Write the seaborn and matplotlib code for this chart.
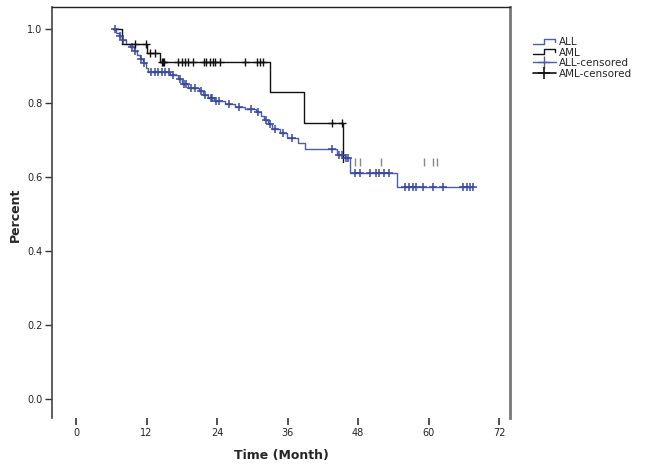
import numpy as np
import pandas as pd
import matplotlib
matplotlib.use("Agg")
import matplotlib.pyplot as plt
import seaborn as sns
from matplotlib.lines import Line2D
from matplotlib.legend_handler import HandlerBase

# ---------------- data ----------------
all_times = [6.3, 6.8, 7.3, 7.8, 8.5, 9.2, 9.9, 10.4, 10.9, 11.4, 11.9, 12.3, 16.0,
             17.4, 18.0, 19.1, 20.9, 21.6, 22.5, 23.5, 25.4, 27.1, 28.8, 30.6, 31.5,
             32.0, 32.7, 33.4, 34.7, 35.9, 37.8, 39.0, 44.4, 45.8, 46.6, 54.6, 67.6]
all_surv = [1.0, 0.989, 0.981, 0.970, 0.959, 0.951, 0.941, 0.930, 0.919, 0.908, 0.895,
            0.884, 0.876, 0.865, 0.851, 0.841, 0.832, 0.822, 0.814, 0.805, 0.797, 0.789,
            0.784, 0.776, 0.765, 0.754, 0.743, 0.730, 0.719, 0.705, 0.692, 0.676, 0.659,
            0.652, 0.611, 0.573, 0.573]
all_censored = [6.6, 7.5, 8.0, 9.5, 10.1, 11.0, 11.6, 12.8, 13.5, 14.0, 14.6, 15.2, 15.8,
                16.5, 17.7, 18.4, 18.8, 19.5, 20.2, 21.2, 22.0, 22.9, 23.1, 23.9, 24.3,
                26.0, 27.8, 29.7, 30.9, 32.3, 33.0, 33.9, 35.2, 36.7, 43.6, 44.8, 45.2,
                46.0, 46.3, 47.5, 48.3, 50.0, 51.0, 51.6, 52.5, 53.3, 56.0, 56.6, 57.3,
                57.9, 59.1, 60.8, 62.5, 65.9, 66.5, 67.1, 67.6]

aml_times = [6.3, 7.8, 12.1, 14.3, 33.0, 38.8, 45.4]
aml_surv = [1.0, 0.959, 0.935, 0.911, 0.830, 0.746, 0.641]
aml_censored = [10.0, 11.9, 12.6, 13.4, 14.6, 14.8, 15.0, 17.4, 18.0, 18.6, 19.1, 19.9,
                21.7, 22.2, 22.8, 23.4, 23.7, 24.5, 28.8, 30.8, 31.3, 31.9, 43.6, 45.3]
aml_censored_late = [47.5, 48.3, 51.9, 59.2, 60.8, 61.4]

x_ticks = [0, 12, 24, 36, 48, 60, 72]
y_ticks = [0.0, 0.2, 0.4, 0.6, 0.8, 1.0]
legend_labels = ["ALL", "AML", "ALL-censored", "AML-censored"]

BLUE = "#4a5cb5"
BLUE_DARK = "#3a4a9e"
BLACK = "#111111"


def level_at(times, surv, t):
    idx = np.searchsorted(np.asarray(times), t, side="right") - 1
    return np.asarray(surv)[np.clip(idx, 0, len(surv) - 1)]


curves = pd.concat([
    pd.DataFrame({"time": all_times, "surv": all_surv, "group": "ALL"}),
    pd.DataFrame({"time": aml_times, "surv": aml_surv, "group": "AML"}),
], ignore_index=True)

cens_all = pd.DataFrame({"time": all_censored,
                         "surv": level_at(all_times, all_surv, all_censored)})
cens_aml = pd.DataFrame({"time": aml_censored,
                         "surv": level_at(aml_times, aml_surv, aml_censored)})
cens_aml_late = pd.DataFrame({"time": aml_censored_late,
                              "surv": level_at(aml_times, aml_surv, aml_censored_late)})

# ---------------- figure ----------------
sns.set_theme(style="white")
plt.rcParams["font.family"] = ["DejaVu Sans"]

fig = plt.figure(figsize=(6.48, 4.66), dpi=100)
ax = fig.add_axes([52 / 648, 1 - 418 / 466, (510 - 52) / 648, (418 - 7) / 466])

sns.lineplot(data=curves, x="time", y="surv", hue="group",
             palette={"ALL": BLUE, "AML": BLACK}, drawstyle="steps-post",
             estimator=None, sort=False, linewidth=1.0, legend=False, ax=ax)

ax.plot(cens_all["time"], cens_all["surv"], linestyle="none", marker="+",
        markersize=6, markeredgewidth=1.1, color=BLUE_DARK, zorder=3)
ax.plot(cens_aml["time"], cens_aml["surv"], linestyle="none", marker="+",
        markersize=6, markeredgewidth=1.0, color=BLACK, zorder=4)
ax.plot(cens_aml_late["time"], cens_aml_late["surv"], linestyle="none", marker="|",
        markersize=6, markeredgewidth=1.0, color="#888888", zorder=4)

ax.set_xlim(-4.09, 73.87)
ax.set_ylim(-0.051, 1.059)
ax.set_xticks(x_ticks)
ax.set_xticklabels([str(v) for v in x_ticks])
ax.set_yticks(y_ticks)
ax.set_yticklabels([f"{v:.1f}" for v in y_ticks])

ax.spines["bottom"].set_visible(False)
ax.spines["top"].set_color("#222222")
ax.spines["top"].set_linewidth(1.0)
ax.spines["left"].set_color("#444444")
ax.spines["left"].set_linewidth(1.2)
ax.spines["right"].set_color("#777777")
ax.spines["right"].set_linewidth(2.0)

ax.tick_params(axis="x", direction="out", length=5, width=1.2, color="#333333",
               bottom=True, pad=2, labelsize=7, labelcolor="#222222")
ax.tick_params(axis="y", direction="out", length=5, width=1.0, color="#333333",
               left=True, pad=2, labelsize=7, labelcolor="#222222")

ax.set_xlabel("Time (Month)", fontsize=9, fontweight="bold", labelpad=8)
ax.set_ylabel("Percent", fontsize=9, fontweight="bold")
ax.yaxis.set_label_coords((22 - 52) / 458, 0.494)
ax.grid(False)


class StepHandler(HandlerBase):
    def create_artists(self, legend, orig_handle, xdescent, ydescent, width, height,
                       fontsize, trans):
        x0, y0 = -xdescent, -ydescent
        xs = [x0, x0 + 0.5 * width, x0 + 0.5 * width, x0 + 0.95 * width, x0 + 0.95 * width]
        ys = [y0 + 0.15 * height, y0 + 0.15 * height, y0 + 0.85 * height,
              y0 + 0.85 * height, y0 + 0.45 * height]
        ln = Line2D(xs, ys, color=orig_handle.get_color(), linewidth=1.0, transform=trans)
        return [ln]


h_all = Line2D([], [], color=BLUE)
h_aml = Line2D([], [], color=BLACK)
h_allc = Line2D([], [], color=BLUE, marker="+", markersize=9, markeredgewidth=1.0,
                linewidth=1.0)
h_amlc = Line2D([], [], color=BLACK, marker="+", markersize=9, markeredgewidth=1.2,
                linewidth=1.2)
fig.legend([h_all, h_aml, h_allc, h_amlc], legend_labels,
           handler_map={h_all: StepHandler(), h_aml: StepHandler()},
           loc="upper left", bbox_to_anchor=(533 / 648, 1 - 37 / 466),
           frameon=False, fontsize=7.5, handlelength=2.2, handletextpad=0.3,
           labelspacing=0.05, borderaxespad=0, borderpad=0)

fig.savefig("out.png", dpi=100)
